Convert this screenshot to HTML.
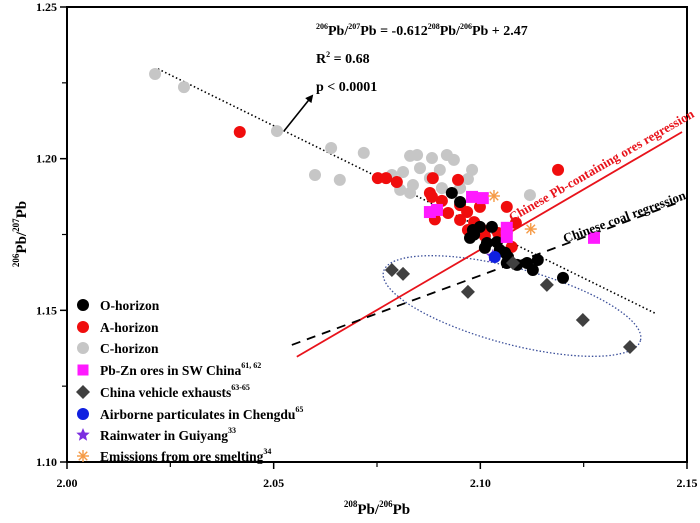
<!DOCTYPE html>
<html><head><meta charset="utf-8"><style>
html,body{margin:0;padding:0;background:#fff}
svg{display:block;font-family:"Liberation Serif",serif;font-weight:bold}
</style></head><body>
<svg id="chart" width="700" height="523" viewBox="0 0 700 523">
<defs><marker id="ah" markerWidth="8" markerHeight="8" refX="6" refY="4" orient="auto" markerUnits="userSpaceOnUse"><path d="M0 0L8 4L0 8Z" fill="#000"/></marker></defs>
<g id="marks"></g>
<g id="axes"></g>
<g id="legend"></g>
<g id="annot">
<text x="316" y="35" font-size="14"><tspan font-size="8" dy="-6">206</tspan><tspan dy="6">Pb/</tspan><tspan font-size="8" dy="-6">207</tspan><tspan dy="6">Pb = -0.612</tspan><tspan font-size="8" dy="-6">208</tspan><tspan dy="6">Pb/</tspan><tspan font-size="8" dy="-6">206</tspan><tspan dy="6">Pb + 2.47</tspan></text>
<text x="316" y="63" font-size="14">R<tspan font-size="8" dy="-6">2</tspan><tspan dy="6"> = 0.68</tspan></text>
<text x="316" y="91" font-size="14">p &lt; 0.0001</text>
<line x1="284" y1="131" x2="312" y2="96" stroke="#000" stroke-width="1.6" marker-end="url(#ah)"/>
<text x="0" y="0" font-size="13" fill="#e8131b" transform="translate(512,222) rotate(-30)">Chinese Pb-containing ores regression</text>
<text x="0" y="0" font-size="13" fill="#000" transform="translate(565,243) rotate(-20)">Chinese coal regression</text>
<text x="377" y="514" font-size="15" text-anchor="middle"><tspan font-size="9" dy="-7">208</tspan><tspan dy="7">Pb/</tspan><tspan font-size="9" dy="-7">206</tspan><tspan dy="7">Pb</tspan></text>
<text x="0" y="0" font-size="15" text-anchor="middle" transform="translate(26,234) rotate(-90)"><tspan font-size="9" dy="-7">206</tspan><tspan dy="7">Pb/</tspan><tspan font-size="9" dy="-7">207</tspan><tspan dy="7">Pb</tspan></text>
</g>
</svg>
<script>
const xTicks=[2.00,2.05,2.10,2.15];
const yTicks=[1.10,1.15,1.20,1.25];
const oX=[2.0931,2.0951,2.0975,2.0982,2.0999,2.1028,2.1016,2.1040,2.1067,2.1064,2.1089,2.1113,2.1139,2.1127,2.1200,2.1047,2.1011,2.0985,2.1060];
const oY=[1.1887,1.1857,1.1739,1.1765,1.1775,1.1775,1.1722,1.1725,1.1676,1.1656,1.1650,1.1656,1.1666,1.1633,1.1607,1.1699,1.1706,1.1750,1.1690];
const aX=[2.0418,2.0752,2.0772,2.0798,2.0885,2.0946,2.0878,2.0922,2.0968,2.0951,2.0970,2.0999,2.1006,2.1011,2.1043,2.1064,2.1086,2.1076,2.1188,2.0907,2.0883,2.0951,2.0985,2.0890];
const aY=[1.2088,1.1936,1.1936,1.1923,1.1936,1.1930,1.1887,1.1821,1.1824,1.1798,1.1765,1.1841,1.1765,1.1745,1.1755,1.1841,1.1788,1.1709,1.1963,1.1861,1.1874,1.1847,1.1791,1.1800];
const cX=[2.0213,2.0283,2.0508,2.0639,2.0718,2.0830,2.0847,2.0600,2.0660,2.0786,2.0813,2.0854,2.0883,2.0919,2.0902,2.0936,2.0980,2.0970,2.0837,2.0830,2.0878,2.0907,2.0951,2.1120,2.0806];
const cY=[1.2279,1.2236,1.2091,1.2035,1.2019,1.2009,1.2012,1.1946,1.1930,1.1946,1.1956,1.1969,1.2002,1.2012,1.1963,1.1996,1.1963,1.1933,1.1913,1.1887,1.1936,1.1903,1.1903,1.1880,1.1897];
const pbX=[2.0878,2.0895,2.0980,2.1006,2.1064,2.1064,2.1275];
const pbY=[1.1824,1.1831,1.1874,1.1870,1.1772,1.1742,1.1739];
const vX=[2.0786,2.0813,2.0970,2.1161,2.1248,2.1362,2.1079];
const vY=[1.1633,1.1620,1.1561,1.1584,1.1468,1.1379,1.1656];
const airX=[2.1035], airY=[1.1676];
const rainX=[2.1030], rainY=[1.1679];
const smX=[2.1033,2.1122], smY=[1.1877,1.1768];
const fitX=[2.0220,2.1422], fitY=[1.2296,1.1491];
const oreX=[2.0556,2.1488], oreY=[1.1347,1.2088];
const coalX=[2.0544,2.1476], coalY=[1.1386,1.1854];

const NS="http://www.w3.org/2000/svg";
const X0=67,X1=687,Y0=462,Y1=7;
function sx(v){return X0+(v-2.00)/(0.15)*(X1-X0);}
function sy(v){return Y0-(v-1.10)/(0.15)*(Y0-Y1);}
function mk(tag,attrs,parent){const e=document.createElementNS(NS,tag);for(const k in attrs)e.setAttribute(k,attrs[k]);parent.appendChild(e);return e;}
const marks=document.getElementById('marks'),axes=document.getElementById('axes'),legend=document.getElementById('legend');

let el=mk('ellipse',{cx:512,cy:306,rx:133,ry:38,transform:'rotate(15 512 306)',fill:'none',stroke:'#3b4f9a','stroke-width':1.3,'stroke-dasharray':'1.5 2'},marks);



let l=mk('line',{x1:sx(fitX[0]),y1:sy(fitY[0]),x2:sx(fitX[1]),y2:sy(fitY[1]),stroke:'#000','stroke-width':1.6,'stroke-dasharray':'1.5 2.5'},marks);


l=mk('line',{x1:sx(oreX[0]),y1:sy(oreY[0]),x2:sx(oreX[1]),y2:sy(oreY[1]),stroke:'#e8131b','stroke-width':1.8},marks);


l=mk('line',{x1:sx(coalX[0]),y1:sy(coalY[0]),x2:sx(coalX[1]),y2:sy(coalY[1]),stroke:'#000','stroke-width':1.8,'stroke-dasharray':'9 7'},marks);



function circles(xs,ys,fill,name){xs.forEach((v,i)=>{const c=mk('circle',{cx:sx(v),cy:sy(ys[i]),r:6,fill:fill},marks);

});}
circles(cX,cY,'#c6c6c6','c-horizon-point');
circles(aX,aY,'#f00d0d','a-horizon-point');
circles(oX,oY,'#000','o-horizon-point');
pbX.forEach((v,i)=>{const r=mk('rect',{x:sx(v)-6,y:sy(pbY[i])-6,width:12,height:12,fill:'#ff1aff'},marks);

});
function diamond(x,y,s,g,fill){return mk('path',{d:`M${x} ${y-s}L${x+s} ${y}L${x} ${y+s}L${x-s} ${y}Z`,fill:fill},g);}
vX.forEach((v,i)=>{const d=diamond(sx(v),sy(vY[i]),7,marks,'#404040');

});
function star(x,y,r,g,fill){let p='';for(let k=0;k<10;k++){const a=-Math.PI/2+k*Math.PI/5,rr=k%2?r*0.45:r;p+=(k?'L':'M')+(x+rr*Math.cos(a)).toFixed(1)+' '+(y+rr*Math.sin(a)).toFixed(1);}return mk('path',{d:p+'Z',fill:fill},g);}
function asterisk(x,y,r,g,col){const gg=mk('g',{stroke:col,'stroke-width':1.4},g);for(let k=0;k<4;k++){const a=k*Math.PI/4;mk('line',{x1:x-r*Math.cos(a),y1:y-r*Math.sin(a),x2:x+r*Math.cos(a),y2:y+r*Math.sin(a)},gg);}return gg;}
rainX.forEach((v,i)=>{const s=star(sx(v),sy(rainY[i]),7,marks,'#7b2ee0');

});
airX.forEach((v,i)=>{const c=mk('circle',{cx:sx(v),cy:sy(airY[i]),r:6,fill:'#1020e0'},marks);

});
smX.forEach((v,i)=>{const a=asterisk(sx(v),sy(smY[i]),6,marks,'#f59a45');

});

let fr=mk('rect',{x:X0,y:Y1,width:X1-X0,height:Y0-Y1,fill:'none',stroke:'#000','stroke-width':2},axes);


xTicks.forEach(v=>{const x=sx(v);mk('line',{x1:x,y1:Y0,x2:x,y2:Y0+7,stroke:'#000','stroke-width':1.5},axes);
const t=mk('text',{x:x,y:Y0+25,'text-anchor':'middle','font-size':12},axes);t.textContent=v.toFixed(2);

});
for(let k=0;k<3;k++){const x=sx(2.025+k*0.05);mk('line',{x1:x,y1:Y0,x2:x,y2:Y0+5,stroke:'#000','stroke-width':1.2},axes);}
yTicks.forEach(v=>{const y=sy(v);mk('line',{x1:X0-7,y1:y,x2:X0,y2:y,stroke:'#000','stroke-width':1.5},axes);
const t=mk('text',{x:X0-10,y:y+4,'text-anchor':'end','font-size':12},axes);t.textContent=v.toFixed(2);

});
for(let k=0;k<3;k++){const y=sy(1.125+k*0.05);mk('line',{x1:X0-5,y1:y,x2:X0,y2:y,stroke:'#000','stroke-width':1.2},axes);}

const legNames=['O-horizon','A-horizon','C-horizon','Pb-Zn ores in SW China','China vehicle exhausts','Airborne particulates in Chengdu','Rainwater in Guiyang','Emissions from ore smelting'];
const legSup=['','','','61, 62','63-65','65','33','34'];
const legY=[305,327,348,370,392,414,435,456];
legNames.forEach((n,i)=>{const y=legY[i],x=83;let m;
if(i<3)m=mk('circle',{cx:x,cy:y,r:6,fill:['#000','#f00d0d','#c6c6c6'][i]},legend);
else if(i==3)m=mk('rect',{x:x-5.5,y:y-5.5,width:11,height:11,fill:'#ff1aff'},legend);
else if(i==4)m=diamond(x,y,7,legend,'#404040');
else if(i==5)m=mk('circle',{cx:x,cy:y,r:6,fill:'#1020e0'},legend);
else if(i==6)m=star(x,y,7,legend,'#7b2ee0');
else m=asterisk(x,y,6,legend,'#f59a45');


const t=mk('text',{x:100,y:y+5,'font-size':13.5},legend);t.textContent=n;
if(legSup[i]){const s=mk('tspan',{'font-size':8,dy:-7},t);s.textContent=legSup[i];}

});
</script>
</body></html>
